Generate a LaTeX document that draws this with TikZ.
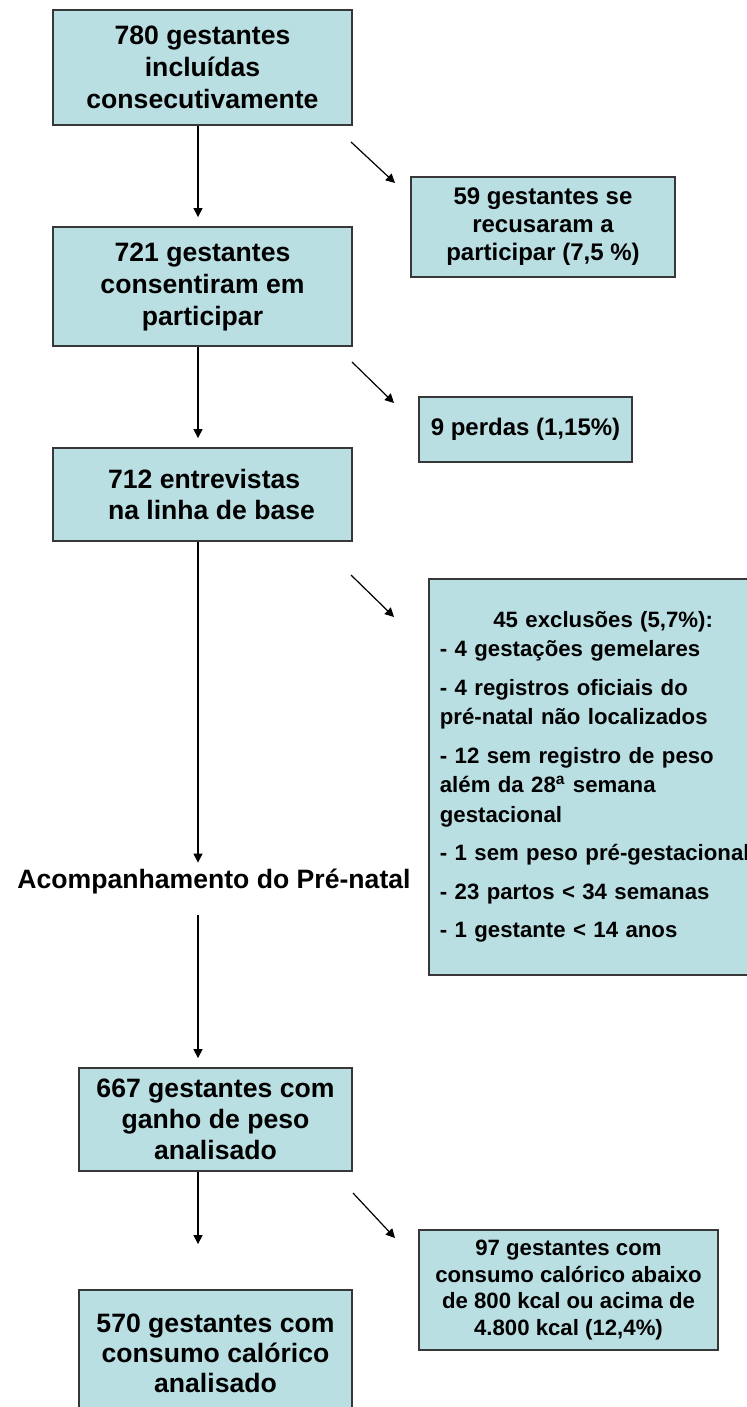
\documentclass[tikz,border=0pt]{standalone}
\usepackage{fontspec}
\setmainfont{Liberation Sans}
\usetikzlibrary{arrows.meta}
\definecolor{boxfill}{RGB}{186,223,227}
\definecolor{bordercol}{RGB}{55,55,55}
\begin{document}
\begin{tikzpicture}[x=0.5pt,y=-0.5pt,
  box/.style={draw=bordercol, line width=0.9pt, fill=boxfill, inner sep=0pt, align=center},
  big/.style={font=\bfseries\fontsize{13.3pt}{16pt}\selectfont},
  bigb/.style={font=\bfseries\fontsize{13.3pt}{15.5pt}\selectfont},
  bigc/.style={font=\bfseries\fontsize{13.3pt}{15pt}\selectfont},
  mid/.style={font=\bfseries\fontsize{12pt}{14pt}\selectfont},
  small/.style={font=\bfseries\fontsize{11.1pt}{14.75pt}\selectfont},
  smallb/.style={font=\bfseries\fontsize{11.1pt}{13.25pt}\selectfont},
  arr/.style={draw=black, line width=0.6pt, -{Triangle[length=4.5pt,width=4.5pt]}}]
\useasboundingbox (0,0) rectangle (747,1407);
\fill[white] (0,0) rectangle (747,1407);
\coordinate (col) at (198,0);
% main column
\node[box, big, minimum width=149.5pt, minimum height=57.5pt] (b1) at (202.5,67.5)
  {780 gestantes\\incluídas\\consecutivamente};
\node[box, big, minimum width=149.5pt, minimum height=59.5pt] (b2) at (202.5,286.5)
  {721 gestantes\\consentiram em\\participar};
\node[box, bigb, align=left, minimum width=149.5pt, minimum height=46.5pt] (b5) at (202.5,494.5)
  {\hspace*{9pt}712 entrevistas\\\hspace*{9pt}na linha de base};
\node[font=\bfseries\fontsize{13.3pt}{16pt}\selectfont, inner sep=0pt, anchor=base] (acomp) at (214,888)
  {Acompanhamento do Pré-natal};
\node[box, bigb, minimum width=136.5pt, minimum height=51.5pt] (b7) at (215.5,1119.5)
  {667 gestantes com\\ganho de peso\\analisado};
\node[box, bigc, minimum width=136.5pt, minimum height=63pt] (b9) at (215.5,1353)
  {570 gestantes com\\consumo calórico\\analisado};
% side boxes
\node[box, mid, minimum width=132pt, minimum height=50pt] (b3) at (543,227)
  {59 gestantes se\\recusaram a\\participar (7,5 \%)};
\node[box, mid, minimum width=106.5pt, minimum height=32.5pt] (b4) at (525.5,429.5)
  {9 perdas (1,15\%)};
\node[box, small, align=left, text width=155pt, inner xsep=5.5pt, minimum height=198pt, anchor=north west] (b6) at (428,578)
  {\hspace*{26.75pt}45 exclusões (5,7\%):\\
   - 4 gestações gemelares\\[4.5pt]
   - 4 registros oficiais do\\
   pré-natal não localizados\\[4.5pt]
   - 12 sem registro de peso\\
   além da 28\textsuperscript{a} semana\\
   gestacional\\[4.5pt]
   - 1 sem peso pré-gestacional\\[4.5pt]
   - 23 partos < 34 semanas\\[4.5pt]
   - 1 gestante < 14 anos};
\node[box, smallb, minimum width=149.5pt, minimum height=60pt] (b8) at (568.5,1290)
  {97 gestantes com\\consumo calórico abaixo\\de 800 kcal ou acima de\\4.800 kcal (12,4\%)};
% vertical connectors
\draw[arr, shorten >=4.5pt] (b1.south -| col) -- (b2.north -| col);
\draw[arr, shorten >=4.5pt] (b2.south -| col) -- (b5.north -| col);
\draw[arr, shorten >=2.75pt] (b5.south -| col) -- (acomp.north -| col);
\draw[arr, shorten <=10.5pt, shorten >=4.5pt] (acomp.south -| col) -- (b7.north -| col);
\draw[arr, shorten >=22.5pt] (b7.south -| col) -- (b9.north -| col);
% diagonal connectors
\coordinate (d1s) at (351,142); \coordinate (d1e) at (395,183);
\coordinate (d2s) at (352,362); \coordinate (d2e) at (394,403);
\coordinate (d3s) at (351,575); \coordinate (d3e) at (394,617);
\coordinate (d4s) at (353,1193); \coordinate (d4e) at (395,1238);
\draw[arr] (d1s) -- (d1e);
\draw[arr] (d2s) -- (d2e);
\draw[arr] (d3s) -- (d3e);
\draw[arr] (d4s) -- (d4e);
\end{tikzpicture}
\end{document}
